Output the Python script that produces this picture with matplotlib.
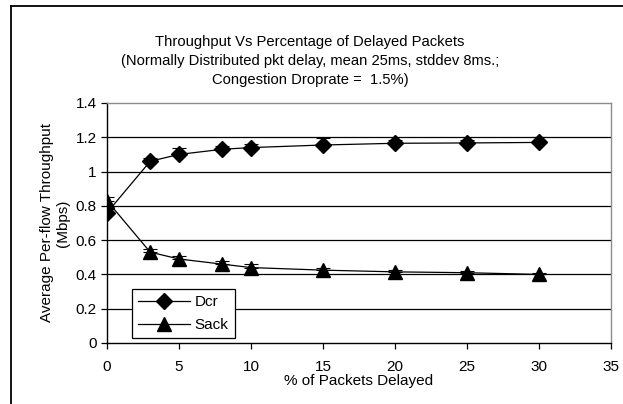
import matplotlib
matplotlib.use("Agg")
import matplotlib.pyplot as plt
from matplotlib.lines import Line2D

plt.rcParams['font.family'] = ['Liberation Sans', 'DejaVu Sans']

pct_delayed = [0, 3, 5, 8, 10, 15, 20, 25, 30]
dcr = [0.76, 1.06, 1.10, 1.13, 1.14, 1.155, 1.165, 1.167, 1.17]
dcr_err = [0.02, 0.02, 0.04, 0.02, 0.02, 0.04, 0.02, 0.02, 0.03]
sack = [0.83, 0.53, 0.49, 0.46, 0.44, 0.425, 0.415, 0.41, 0.40]
sack_err = [0.02, 0.02, 0.02, 0.02, 0.02, 0.01, 0.01, 0.01, 0.01]

x_ticks = [0, 5, 10, 15, 20, 25, 30, 35]
y_ticks = [0, 0.2, 0.4, 0.6, 0.8, 1.0, 1.2, 1.4]
y_tick_labels = ['0', '0.2', '0.4', '0.6', '0.8', '1', '1.2', '1.4']

W, H = 623, 404
fig = plt.figure(figsize=(W / 100, H / 100), dpi=100)
ax = fig.add_axes([107 / W, 1 - 343 / H, (611 - 107) / W, (343 - 103) / H])

# outer chart frame (left and top edges visible)
fig.add_artist(Line2D([11 / W, 11 / W], [0, 1 - 6 / H], transform=fig.transFigure,
                      color='black', lw=1.3))
fig.add_artist(Line2D([11 / W, 1], [1 - 6 / H, 1 - 6 / H], transform=fig.transFigure,
                      color='black', lw=1.3))

for yv in y_ticks[1:-1]:
    ax.axhline(yv, color='black', lw=0.9, zorder=1)

# plus-direction error bars, drawn beneath the markers
zeros = [0] * len(pct_delayed)
ax.errorbar(pct_delayed, dcr, yerr=[zeros, dcr_err], fmt='none', ecolor='black',
            capsize=5, elinewidth=0.8, capthick=0.8, zorder=2)
ax.errorbar(pct_delayed, sack, yerr=[zeros, sack_err], fmt='none', ecolor='black',
            capsize=5, elinewidth=0.8, capthick=0.8, zorder=2)

ax.plot(pct_delayed, dcr, color='black', lw=0.9, marker='D', markersize=8.5,
        label='Dcr', zorder=3)
ax.plot(pct_delayed, sack, color='black', lw=0.9, marker='^', markersize=10.5,
        label='Sack', zorder=3)

ax.set_xlim(0, 35)
ax.set_ylim(0, 1.4)
ax.set_xticks(x_ticks)
ax.set_yticks(y_ticks)
ax.set_yticklabels(y_tick_labels)
ax.tick_params(axis='both', labelsize=11, direction='out', length=4, width=0.9, color='black')
ax.tick_params(axis='x', pad=8)

for side in ('top', 'right'):
    ax.spines[side].set_color('#8c8c8c')
    ax.spines[side].set_linewidth(1.0)
for side in ('left', 'bottom'):
    ax.spines[side].set_color('black')
    ax.spines[side].set_linewidth(1.0)

ax.set_xlabel('% of Packets Delayed', fontsize=11, labelpad=0)
ax.set_ylabel('Average Per-flow Throughput\n(Mbps)', fontsize=11, labelpad=4, linespacing=1.15)

title_lines = ['Throughput Vs Percentage of Delayed Packets',
               '(Normally Distributed pkt delay, mean 25ms, stddev 8ms.;',
               'Congestion Droprate =  1.5%)']
for i, line in enumerate(title_lines):
    fig.text(0.4975, 1 - (42 + 19 * i) / H, line, ha='center', va='center', fontsize=10.6)

leg = ax.legend(loc='lower left', bbox_to_anchor=((132 - 107) / (611 - 107), (343 - 338) / 240),
                borderaxespad=0, fontsize=11, frameon=True, fancybox=False, edgecolor='black',
                framealpha=1, borderpad=0.4, handlelength=3.4, handletextpad=0.3,
                labelspacing=0.55)
leg.get_frame().set_linewidth(0.9)

fig.savefig('out.png', dpi=100)
